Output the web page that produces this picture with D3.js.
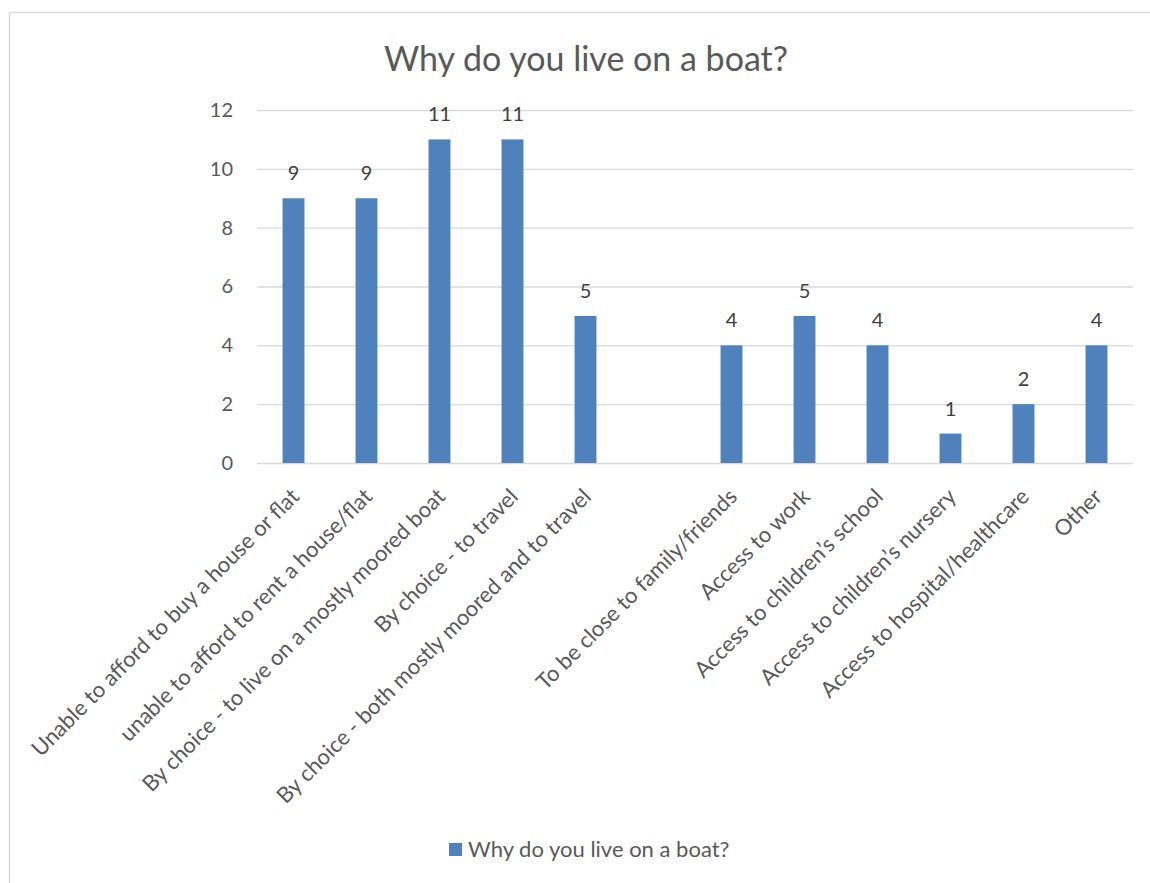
<!DOCTYPE html>
<html><head><meta charset="utf-8">
<script src="https://cdn.jsdelivr.net/npm/d3@7"></script>
<style>body{margin:0;background:#fff;} svg{display:block;}</style>
</head><body>
<script>
const categories = [
  "Unable to afford to buy a house or flat",
  "unable to afford to rent a house/flat",
  "By choice - to live on a mostly moored boat",
  "By choice - to travel",
  "By choice - both mostly moored and to travel",
  "",
  "To be close to family/friends",
  "Access to work",
  "Access to children\u2019s school",
  "Access to children\u2019s nursery",
  "Access to hospital/healthcare",
  "Other"
];
const values = [9, 9, 11, 11, 5, null, 4, 5, 4, 1, 2, 4];
const yTicks = [0, 2, 4, 6, 8, 10, 12];
const seriesName = "Why do you live on a boat?";
const title = "Why do you live on a boat?";

(function () {
const W = 1150, H = 883;
const font = "Lato, 'Open Sans', sans-serif";
const svg = d3.select("body").append("svg").attr("width", W).attr("height", H);
svg.append("rect").attr("width", W).attr("height", H).attr("fill", "#fff");
svg.append("rect").attr("x", 9.5).attr("y", 12.5).attr("width", W).attr("height", H)
  .attr("fill", "none").attr("stroke", "#d9d9d9").attr("stroke-width", 1.5);

const pLeft = 257, pRight = 1133, pTop = 110, pBottom = 463;
const idx = categories.map((d, i) => i);
const x = d3.scaleBand().domain(idx).range([pLeft, pRight]).paddingInner(0.7).paddingOuter(0.35);
const y = d3.scaleLinear().domain([0, 12]).range([pBottom, pTop]);

const yAxis = d3.axisLeft(y).tickValues(yTicks).tickSize(-(pRight - pLeft)).tickPadding(24);
const gy = svg.append("g").attr("transform", `translate(${pLeft},0)`).call(yAxis);
gy.select(".domain").remove();
gy.selectAll(".tick line").attr("stroke", "#d9d9d9").attr("stroke-width", 1.3);
gy.selectAll(".tick text").attr("fill", "#595959").style("font-family", font).style("font-size", "20px");

svg.append("g").selectAll("rect").data(idx.filter(i => values[i] != null)).join("rect")
  .attr("x", i => x(i)).attr("width", x.bandwidth())
  .attr("y", i => y(values[i])).attr("height", i => y(0) - y(values[i]))
  .attr("fill", "#4f81bd");

svg.append("g").selectAll("text").data(idx.filter(i => values[i] != null)).join("text")
  .attr("x", i => x(i) + x.bandwidth() / 2).attr("y", i => y(values[i]) - 18)
  .attr("text-anchor", "middle").attr("fill", "#404040")
  .style("font-family", font).style("font-size", "20px")
  .text(i => values[i]);

const xAxis = d3.axisBottom(x).tickSize(0).tickFormat(i => categories[i]);
const gx = svg.append("g").attr("transform", `translate(0,${pBottom})`).call(xAxis);
gx.select(".domain").remove();
gx.selectAll(".tick text")
  .attr("text-anchor", "end").attr("fill", "#595959")
  .style("font-family", font).style("font-size", "22px")
  .attr("x", 0).attr("y", 0).attr("dy", 0)
  .attr("transform", "translate(7,35) rotate(-45)");

svg.append("text").attr("x", 586).attr("y", 71).attr("text-anchor", "middle")
  .attr("fill", "#595959").style("font-family", font).style("font-size", "34px").text(title);

svg.append("rect").attr("x", 449).attr("y", 843).attr("width", 13).attr("height", 13).attr("fill", "#4f81bd");
svg.append("text").attr("x", 468).attr("y", 857).attr("fill", "#595959")
  .style("font-family", font).style("font-size", "22px").text(seriesName);
})();
</script>
</body></html>
